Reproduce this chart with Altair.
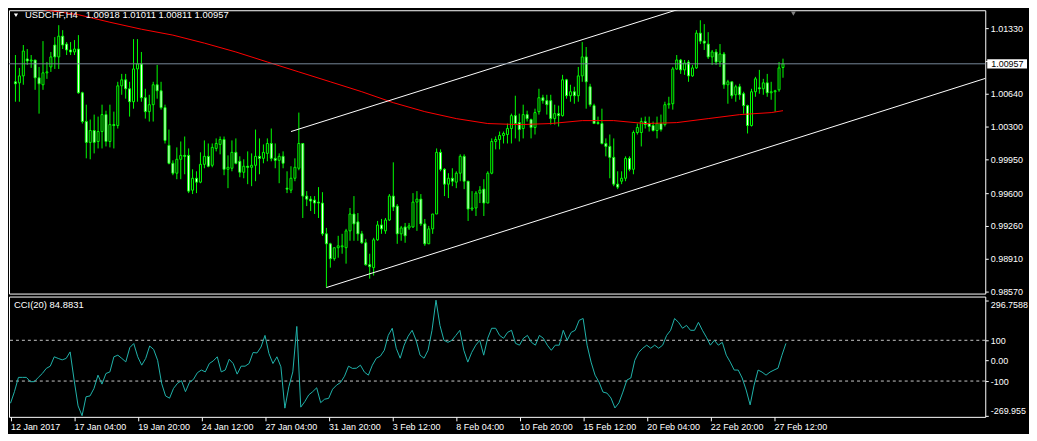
import json
import altair as alt
import pandas as pd

# ---------------- data ----------------
bar_index = list(range(196))

open_ = [
    1.00768, 1.00757, 1.00830, 1.01008, 1.00987, 1.00997, 1.00810, 1.00737, 1.00862, 1.00924,
    1.01154, 1.01029, 1.01247, 1.01164, 1.01102, 1.01081, 1.01112, 1.00653, 1.00351, 1.00132,
    1.00257, 1.00142, 1.00246, 1.00424, 1.00142, 1.00319, 1.00309, 1.00726, 1.00789, 1.00695,
    1.00559, 1.00903, 1.00956, 1.00601, 1.00455, 1.00528, 1.00737, 1.00674, 1.00497, 1.00101,
    0.99913, 0.99809, 0.99955, 0.99996, 0.99996, 0.99631, 0.99756, 0.99715, 0.99902, 0.99986,
    0.99892, 1.00069, 1.00111, 1.00163, 0.99850, 0.99861, 1.00028, 0.99934, 0.99819, 0.99882,
    0.99871, 0.99892, 0.99986, 0.99965, 1.00017, 1.00121, 0.99965, 0.99944, 0.99986, 0.99652,
    0.99631, 0.99756, 0.99861, 1.00121, 0.99569, 0.99537, 0.99527, 0.99506, 0.99496, 0.99173,
    0.99068, 0.98912, 0.99027, 0.99037, 0.99027, 0.99204, 0.99381, 0.99298, 0.99173, 0.99079,
    0.98849, 0.98818, 0.99110, 0.99266, 0.99204, 0.99318, 0.99569, 0.99464, 0.99173, 0.99245,
    0.99235, 0.99245, 0.99506, 0.99537, 0.99277, 0.99068, 0.99225, 0.99381, 1.00028, 0.99850,
    0.99694, 0.99756, 0.99715, 0.99809, 0.99986, 0.99725, 0.99433, 0.99444, 0.99600, 0.99642,
    0.99496, 0.99809, 1.00142, 1.00163, 1.00205, 1.00215, 1.00278, 1.00413, 1.00340, 1.00278,
    1.00424, 1.00372, 1.00288, 1.00455, 1.00601, 1.00570, 1.00570, 1.00382, 1.00434, 1.00413,
    1.00789, 1.00622, 1.00664, 1.00622, 1.00830, 1.01029, 1.00716, 1.00518, 1.00340, 1.00330,
    1.00121, 1.00090, 0.99975, 0.99694, 0.99725, 0.99756, 0.99965, 0.99850, 1.00236, 1.00236,
    1.00351, 1.00330, 1.00309, 1.00257, 1.00330, 1.00319, 1.00528, 1.00538, 1.00903, 1.00997,
    1.00893, 1.00976, 1.00830, 1.00914, 1.01279, 1.01195, 1.01164, 1.01029, 1.01081, 1.00976,
    1.01060, 1.00737, 1.00768, 1.00632, 1.00716, 1.00643, 1.00518, 1.00309, 1.00664, 1.00705,
    1.00695, 1.00757, 1.00653, 1.00664, 1.00684, 1.00918,
]

high = [
    1.01049, 1.00914, 1.01154, 1.01112, 1.01049, 1.00997, 1.00924, 1.01195, 1.00976, 1.01081,
    1.01237, 1.01362, 1.01310, 1.01185, 1.01185, 1.01206, 1.01258, 1.00664, 1.00528, 1.00372,
    1.00424, 1.00403, 1.00528, 1.00465, 1.00528, 1.00455, 1.00768, 1.00851, 1.00851, 1.00768,
    1.01216, 1.01216, 1.01081, 1.00695, 1.00632, 1.00768, 1.00945, 1.00768, 1.00528, 1.00267,
    0.99944, 1.00080, 1.00142, 1.00194, 1.00069, 0.99850, 0.99829, 1.00028, 1.00153, 1.00121,
    1.00121, 1.00174, 1.00194, 1.00194, 0.99996, 1.00153, 1.00174, 0.99986, 0.99955, 1.00038,
    1.00017, 1.00267, 1.00174, 1.00111, 1.00174, 1.00278, 1.00121, 1.00017, 1.00038, 0.99829,
    0.99882, 0.99965, 1.00445, 1.00121, 0.99621, 0.99569, 0.99569, 0.99663, 0.99610, 0.99235,
    0.99079, 0.99027, 0.99152, 0.99173, 0.99225, 0.99444, 0.99569, 0.99391, 0.99204, 0.99120,
    0.98964, 0.99131, 0.99308, 0.99329, 0.99339, 0.99590, 0.99923, 0.99485, 0.99256, 0.99287,
    0.99287, 0.99600, 0.99621, 0.99590, 0.99329, 0.99256, 0.99381, 1.00069, 1.00059, 0.99861,
    0.99809, 0.99861, 0.99829, 1.00007, 1.00007, 0.99725, 0.99621, 0.99621, 0.99673, 0.99746,
    0.99829, 1.00174, 1.00194, 1.00246, 1.00246, 1.00330, 1.00434, 1.00622, 1.00434, 1.00528,
    1.00465, 1.00382, 1.00486, 1.00695, 1.00632, 1.00632, 1.00632, 1.00528, 1.00518, 1.00841,
    1.00799, 1.00737, 1.00716, 1.00924, 1.01185, 1.01133, 1.00747, 1.00538, 1.00403, 1.00486,
    1.00174, 1.00215, 1.00174, 0.99829, 0.99829, 0.99986, 0.99986, 1.00257, 1.00330, 1.00392,
    1.00403, 1.00403, 1.00351, 1.00403, 1.00424, 1.00559, 1.00611, 1.00924, 1.01049, 1.01008,
    1.00997, 1.00997, 1.00945, 1.01310, 1.01414, 1.01373, 1.01289, 1.01102, 1.01112, 1.01164,
    1.01081, 1.00789, 1.00768, 1.00737, 1.00747, 1.00664, 1.00528, 1.00695, 1.00820, 1.00893,
    1.00799, 1.00851, 1.00768, 1.00684, 1.00976, 1.01011,
]

low = [
    1.00559, 1.00559, 1.00737, 1.00945, 1.00914, 1.00684, 1.00434, 1.00684, 1.00799, 1.00872,
    1.00903, 1.00903, 1.01112, 1.01049, 1.01049, 1.01049, 1.00643, 1.00330, 0.99965, 0.99955,
    1.00017, 1.00069, 1.00069, 1.00090, 1.00080, 1.00069, 1.00278, 1.00632, 1.00591, 1.00403,
    1.00486, 1.00559, 1.00559, 1.00382, 1.00351, 1.00351, 1.00591, 1.00476, 1.00121, 0.99902,
    0.99788, 0.99746, 0.99746, 0.99798, 0.99600, 0.99590, 0.99600, 0.99704, 0.99861, 0.99871,
    0.99871, 1.00038, 1.00007, 0.99788, 0.99652, 0.99829, 0.99902, 0.99767, 0.99756, 0.99694,
    0.99673, 0.99725, 0.99798, 0.99913, 0.99934, 0.99934, 0.99861, 0.99704, 0.99861, 0.99600,
    0.99600, 0.99725, 0.99840, 0.99339, 0.99464, 0.99412, 0.99381, 0.99339, 0.99152, 0.98609,
    0.98818, 0.98891, 0.98922, 0.98964, 0.98860, 0.99100, 0.99100, 0.99100, 0.99068, 0.98839,
    0.98703, 0.98735, 0.99100, 0.99173, 0.99173, 0.99308, 0.99412, 0.99068, 0.99100, 0.99079,
    0.99214, 0.99235, 0.99204, 0.99256, 0.99047, 0.99068, 0.99173, 0.99381, 0.99829, 0.99569,
    0.99548, 0.99673, 0.99652, 0.99725, 0.99642, 0.99308, 0.99412, 0.99360, 0.99496, 0.99360,
    0.99496, 0.99798, 1.00059, 1.00059, 1.00121, 1.00121, 1.00121, 1.00174, 1.00142, 1.00174,
    1.00351, 1.00174, 1.00215, 1.00424, 1.00538, 1.00424, 1.00319, 1.00319, 1.00299, 1.00403,
    1.00591, 1.00559, 1.00538, 1.00559, 1.00768, 1.00486, 1.00507, 1.00330, 1.00319, 1.00111,
    0.99986, 0.99756, 0.99673, 0.99642, 0.99694, 0.99725, 0.99829, 0.99798, 1.00215, 1.00090,
    1.00278, 1.00246, 1.00246, 1.00174, 1.00246, 1.00299, 1.00486, 1.00476, 1.00893, 1.00851,
    1.00841, 1.00768, 1.00820, 1.00903, 1.01164, 1.01102, 1.01008, 1.00945, 1.00945, 1.00924,
    1.00695, 1.00538, 1.00591, 1.00559, 1.00580, 1.00434, 1.00226, 1.00299, 1.00611, 1.00643,
    1.00632, 1.00611, 1.00580, 1.00455, 1.00664, 1.00811,
]

close = [
    1.00747, 1.00830, 1.01091, 1.00987, 1.00997, 1.00810, 1.00747, 1.00862, 1.00872, 1.01029,
    1.01029, 1.01247, 1.01154, 1.01102, 1.01081, 1.01112, 1.00653, 1.00351, 1.00132, 1.00257,
    1.00132, 1.00246, 1.00424, 1.00142, 1.00319, 1.00309, 1.00726, 1.00789, 1.00695, 1.00559,
    1.00903, 1.00956, 1.00601, 1.00455, 1.00528, 1.00737, 1.00674, 1.00497, 1.00153, 0.99913,
    0.99809, 0.99955, 0.99996, 0.99986, 0.99621, 0.99756, 0.99715, 0.99902, 0.99986, 0.99882,
    1.00080, 1.00121, 1.00163, 0.99850, 0.99871, 1.00028, 0.99913, 0.99819, 0.99882, 0.99871,
    0.99892, 0.99986, 0.99965, 1.00028, 1.00121, 0.99965, 0.99944, 0.99986, 0.99913, 0.99642,
    0.99756, 0.99871, 1.00121, 0.99569, 0.99537, 0.99517, 0.99496, 0.99496, 0.99173, 0.99068,
    0.98912, 0.99027, 0.99047, 0.99047, 0.99204, 0.99381, 0.99277, 0.99173, 0.99079, 0.98849,
    0.98828, 0.99110, 0.99266, 0.99225, 0.99318, 0.99569, 0.99454, 0.99173, 0.99235, 0.99152,
    0.99256, 0.99506, 0.99537, 0.99277, 0.99068, 0.99225, 0.99381, 1.00028, 0.99850, 0.99694,
    0.99756, 0.99725, 0.99809, 0.99986, 0.99725, 0.99433, 0.99444, 0.99600, 0.99631, 0.99496,
    0.99809, 1.00142, 1.00163, 1.00205, 1.00226, 1.00278, 1.00413, 1.00330, 1.00267, 1.00424,
    1.00382, 1.00288, 1.00445, 1.00601, 1.00570, 1.00528, 1.00382, 1.00434, 1.00413, 1.00789,
    1.00622, 1.00664, 1.00622, 1.00830, 1.01029, 1.00768, 1.00528, 1.00330, 1.00330, 1.00121,
    1.00090, 0.99975, 0.99694, 0.99663, 0.99756, 0.99965, 0.99850, 1.00236, 1.00288, 1.00351,
    1.00319, 1.00299, 1.00257, 1.00330, 1.00267, 1.00528, 1.00538, 1.00903, 1.00997, 1.00893,
    1.00966, 1.00830, 1.00914, 1.01279, 1.01195, 1.01174, 1.01029, 1.01081, 1.00976, 1.01060,
    1.00737, 1.00768, 1.00622, 1.00716, 1.00632, 1.00518, 1.00309, 1.00664, 1.00799, 1.00695,
    1.00757, 1.00653, 1.00664, 1.00674, 1.00914, 1.00957,
]

cci = [
    -209, -152, -82, -82, -82, -103, -103, -82, -63, -38,
    -27, 19, 11, 4, 11, 43, -95, -222, -269.955, -177,
    -173, -136, -71, -115, -63, -55, 19, 27, 11, -6,
    64, 84, 19, -22, 11, 72, 55, 2, -111, -173,
    -184, -136, -111, -98, -152, -107, -92, -59, -46, -55,
    -14, -1, 19, -55, -46, 7, -14, -66, -27, -27,
    -14, 40, 38, 67, 124, 35, -14, 19, -30, -233,
    -128, -55, 168, -228, -201, -168, -152, -133, -206, -189,
    -185, -140, -120, -107, -76, -27, -38, -37, -22, -56,
    -71, -22, 12, 22, 51, 124, 159, 61, 12, 76,
    120, 149, 100, 27, 12, 51, 149, 296.7588, 173, 100,
    90, 100, 124, 149, 51, -7, 41, 76, 100, 27,
    110, 159, 159, 124, 110, 139, 149, 85, 76, 110,
    124, 90, 76, 124, 110, 76, 51, 76, 76, 149,
    100, 139, 149, 198, 207, 76, -7, -71, -105, -154,
    -159, -183, -232, -207, -154, -95, -85, 2, 41, 61,
    76, 61, 76, 61, 76, 124, 149, 207, 188, 159,
    173, 149, 149, 188, 149, 115, 76, 100, 76, 90,
    27, -7, -46, -46, -85, -144, -217, -120, -46, -56,
    -71, -56, -46, -37, 27, 84.8831,
]

ma_bars = [0, 4, 8, 16, 24, 32, 40, 48, 56, 64, 72, 80, 88, 96, 104, 112, 120, 128,
           136, 144, 152, 160, 168, 176, 184, 192, 195]
ma_vals = [1.01576, 1.01550, 1.01519, 1.01472, 1.01393, 1.01320, 1.01258, 1.01174, 1.01081,
           1.00976, 1.00872, 1.00768, 1.00664, 1.00549, 1.00455, 1.00382, 1.00330, 1.00319,
           1.00330, 1.00361, 1.00361, 1.00330, 1.00340, 1.00382, 1.00424, 1.00445, 1.00465]

upper_bars = [70, 180]
upper_vals = [1.00246, 1.01679]
lower_bars = [79, 250]
lower_vals = [0.98609, 1.00851]

date_ticks = [0, 16, 32, 48, 64, 80, 96, 112, 128, 144, 160, 176, 192]
date_labels = ["12 Jan 2017", "17 Jan 04:00", "19 Jan 20:00", "24 Jan 12:00", "27 Jan 04:00",
               "31 Jan 20:00", "3 Feb 12:00", "8 Feb 04:00", "10 Feb 20:00", "15 Feb 12:00",
               "20 Feb 04:00", "22 Feb 20:00", "27 Feb 12:00"]
price_ticks = [0.98570, 0.98910, 0.99260, 0.99600, 0.99950, 1.00300, 1.00640, 1.00990, 1.01330]
cci_levels = [100, -100]
cci_ticks = [min(cci), -100, 0, 100, max(cci)]

# ---------------- layout / style ----------------
W = 982
H_MAIN = 285
H_CCI = 121
FONT = "Liberation Sans"
LIME = "#00ff00"

X_DOMAIN = [-0.375, 245.125]
PRICE_DOMAIN = [0.98546, 1.01519]
CCI_DOMAIN = [-275.6, 314.6]

xs = alt.Scale(domain=X_DOMAIN, nice=False, zero=False)
ys = alt.Scale(domain=PRICE_DOMAIN, nice=False, zero=False)
cs = alt.Scale(domain=CCI_DOMAIN, nice=False, zero=False)

# the 1.00990 label sits under the current-price box, so only its tick is drawn
price_axis = alt.Axis(orient="right", values=price_ticks, title=None, grid=False,
                      labelExpr="abs(datum.value - 1.0099) < 0.00001 ? '' : format(datum.value, '.5f')",
                      domain=False, tickColor="white", tickSize=3, labelColor="white",
                      labelFont=FONT, labelFontSize=9, labelPadding=2, labelOverlap=False)
cci_axis = alt.Axis(orient="right", values=cci_ticks, title=None, grid=False, domain=False,
                    labelExpr="datum.value == 0 ? '0.00' : toString(datum.value)",
                    tickColor="white", tickSize=3, labelColor="white", labelFont=FONT,
                    labelFontSize=9, labelPadding=2, labelOverlap=False, labelFlush=6)
date_axis = alt.Axis(values=date_ticks, title=None, grid=False, domain=False,
                     labelExpr=json.dumps(date_labels) + "[round(datum.value / 16)]",
                     tickColor="white", tickSize=4, labelColor="white", labelFont=FONT,
                     labelFontSize=9, labelPadding=2, labelAlign="left", labelFlush=False,
                     labelOverlap=False, labelBound=False)

df = pd.DataFrame({"bar": bar_index, "open": open_, "high": high, "low": low,
                   "close": close, "cci": cci})

X_MAIN = alt.X("bar:Q", scale=xs, axis=None, title=None)

wicks = alt.Chart(df).mark_rule(color=LIME, strokeWidth=1).encode(
    x=X_MAIN, y=alt.Y("low:Q", scale=ys, axis=price_axis, title=None), y2="high:Q")

bodies = alt.Chart(df).mark_bar(width=2, stroke=LIME, strokeWidth=1).encode(
    x=X_MAIN, y=alt.Y("open:Q", scale=ys, axis=price_axis, title=None), y2="close:Q",
    fill=alt.condition("datum.close >= datum.open", alt.value("#000000"), alt.value("#ffffff")))

ma_df = pd.DataFrame({"bar": ma_bars, "price": ma_vals})
ma = alt.Chart(ma_df).mark_line(color="#ff0000", strokeWidth=1, clip=True).encode(
    x=X_MAIN, y=alt.Y("price:Q", scale=ys, axis=price_axis, title=None))

chan_df = pd.DataFrame({"bar": upper_bars + lower_bars, "price": upper_vals + lower_vals,
                        "line": ["upper", "upper", "lower", "lower"]})
chan = alt.Chart(chan_df).mark_line(color="#ffffff", strokeWidth=1, clip=True).encode(
    x=X_MAIN, y=alt.Y("price:Q", scale=ys, axis=price_axis, title=None), detail="line:N")

last = pd.DataFrame({"p": [close[-1]]})
bid = alt.Chart(last).mark_rule(color="#778899", strokeWidth=1).encode(
    y=alt.Y("p:Q", scale=ys, axis=price_axis, title=None))

box = alt.Chart(last).transform_calculate(
    top="datum.p + 0.00049", bot="datum.p - 0.00049"
).mark_rect(color="#ffffff").encode(
    x=alt.value(W + 2), x2=alt.value(W + 42),
    y=alt.Y("top:Q", scale=ys, axis=price_axis, title=None), y2="bot:Q")

box_text = alt.Chart(last).mark_text(align="left", baseline="middle", color="#000000",
                                     font=FONT, fontSize=9).encode(
    x=alt.value(W + 6), y=alt.Y("p:Q", scale=ys, axis=price_axis, title=None),
    text=alt.Text("p:Q", format=".5f"))

NB = "\u00a0"
title_str = "USDCHF,H4" + NB * 3 + " ".join(
    "{:.5f}".format(v) for v in (open_[-1], high[-1], low[-1], close[-1]))
title_txt = alt.Chart(pd.DataFrame({"t": [title_str]})).mark_text(
    align="left", baseline="middle", color="#ffffff", font=FONT, fontSize=9.5).encode(
    x=alt.value(16), y=alt.value(5), text="t:N")

tri = alt.Chart(pd.DataFrame({"a": [0]})).mark_point(
    shape="triangle-down", filled=True, color="#ffffff", size=18, opacity=1).encode(
    x=alt.value(7), y=alt.value(5))

tri2 = alt.Chart(pd.DataFrame({"a": [0]})).mark_point(
    shape="triangle-down", filled=True, color="#808080", size=24, opacity=1).encode(
    x=alt.value(789), y=alt.value(3.5))

main = alt.layer(wicks, bodies, ma, chan, bid, box, box_text, title_txt, tri, tri2).properties(
    width=W, height=H_MAIN)

lvl_df = pd.DataFrame({"lvl": cci_levels})
levels = alt.Chart(lvl_df).mark_rule(color="#c8c8c8", strokeDash=[3, 3], strokeWidth=1).encode(
    y=alt.Y("lvl:Q", scale=cs, axis=cci_axis, title=None))

cci_line = alt.Chart(df).mark_line(color="#20b2aa", strokeWidth=1, clip=True).encode(
    x=alt.X("bar:Q", scale=xs, axis=date_axis, title=None),
    y=alt.Y("cci:Q", scale=cs, axis=cci_axis, title=None))

cci_txt = alt.Chart(pd.DataFrame({"t": ["CCI(20) {:.4f}".format(cci[-1])]})).mark_text(
    align="left", baseline="middle", color="#ffffff", font=FONT, fontSize=9.5).encode(
    x=alt.value(5), y=alt.value(9), text="t:N")

lower = alt.layer(levels, cci_line, cci_txt).properties(width=W, height=H_CCI)

chart = alt.vconcat(main, lower, spacing=3, bounds="flush").properties(
    padding=0, background="#000000"
).configure_view(stroke="#ffffff", strokeWidth=1)

chart.save("out.html", embed_options={"renderer": "svg", "actions": False})
